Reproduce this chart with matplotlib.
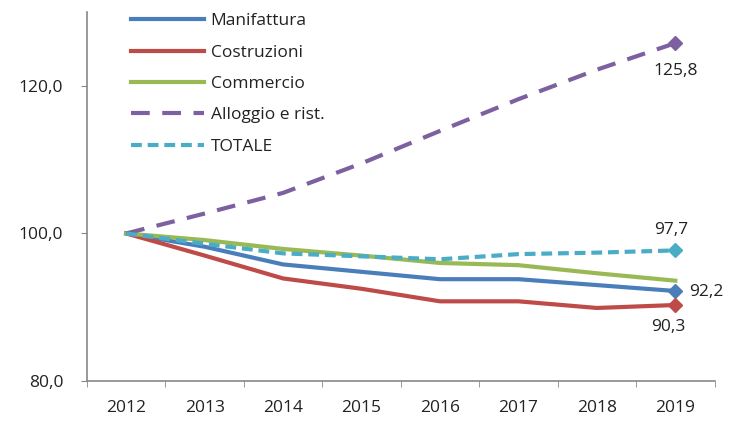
import matplotlib
matplotlib.use("Agg")
import matplotlib.pyplot as plt
import numpy as np

plt.rcParams['font.family'] = ['Open Sans', 'DejaVu Sans']

# Data (index, 2012 = 100)
years = ["2012", "2013", "2014", "2015", "2016", "2017", "2018", "2019"]
manifattura = [100.0, 98.2, 95.8, 94.8, 93.8, 93.8, 93.0, 92.2]
costruzioni = [100.0, 97.0, 93.9, 92.5, 90.8, 90.8, 89.9, 90.3]
commercio = [100.0, 99.1, 97.9, 97.0, 96.0, 95.7, 94.6, 93.6]
alloggio = [100.0, 102.7, 105.5, 109.5, 113.9, 118.2, 122.2, 125.8]
totale = [100.0, 98.6, 97.3, 96.9, 96.5, 97.2, 97.4, 97.7]

fig = plt.figure(figsize=(7.34, 4.23), dpi=100)
ax = fig.add_axes([0.1185, 0.0993, 0.855, 0.872])

x = np.arange(len(years))
lw = 3
ax.plot(x, manifattura, color="#4A7EBB", lw=lw, label="Manifattura")
ax.plot(x, costruzioni, color="#BE4B48", lw=lw, label="Costruzioni")
ax.plot(x, commercio, color="#98B954", lw=lw, label="Commercio")
ax.plot(x, alloggio, color="#7D60A0", lw=lw, dashes=(4.5, 3), label="Alloggio e rist.")
ax.plot(x, totale, color="#4BACC6", lw=lw, dashes=(2.6, 1.4), label="TOTALE")

# diamond markers on last point
for series, col in [(manifattura, "#4A7EBB"), (costruzioni, "#BE4B48"),
                    (alloggio, "#7D60A0"), (totale, "#4BACC6")]:
    ax.plot(x[-1], series[-1], marker="D", ms=7, color=col, ls="none")

def fmt(v):
    return f"{v:.1f}".replace(".", ",")

tc = "#222222"
fs = 12.5
ax.annotate(fmt(alloggio[-1]), (x[-1], alloggio[-1]), xytext=(0, -14),
            textcoords="offset points", ha="center", va="top", fontsize=fs, color=tc)
ax.annotate(fmt(totale[-1]), (x[-1], totale[-1]), xytext=(-3, 9),
            textcoords="offset points", ha="center", va="bottom", fontsize=fs, color=tc)
ax.annotate(fmt(manifattura[-1]), (x[-1], manifattura[-1]), xytext=(10, -1),
            textcoords="offset points", ha="left", va="center", fontsize=fs, color=tc)
ax.annotate(fmt(costruzioni[-1]), (x[-1], costruzioni[-1]), xytext=(-5, -10),
            textcoords="offset points", ha="center", va="top", fontsize=fs, color=tc)

ax.set_xlim(-0.5, 7.5)
ax.set_ylim(80, 130)
ax.set_xticks(x)
ax.set_xticklabels(years)
ax.set_xticks(np.arange(-0.5, 8, 1), minor=True)
ax.set_yticks([80, 100, 120])
ax.set_yticklabels([fmt(v) for v in [80, 100, 120]])

ax.tick_params(axis="x", which="major", length=0, pad=14, labelsize=fs, labelcolor=tc)
ax.tick_params(axis="x", which="minor", length=4, color="#888888")
ax.tick_params(axis="y", length=4, color="#888888", pad=13, labelsize=fs, labelcolor=tc)

for s in ["top", "right"]:
    ax.spines[s].set_visible(False)
for s in ["left", "bottom"]:
    ax.spines[s].set_color("#888888")
    ax.spines[s].set_linewidth(1.2)

leg = ax.legend(loc="upper left", bbox_to_anchor=(0.045, 1.04), frameon=False,
                fontsize=fs, handlelength=4.2, handletextpad=0.4, labelspacing=0.88)
for t in leg.get_texts():
    t.set_color(tc)

fig.savefig("out.png", dpi=100)
